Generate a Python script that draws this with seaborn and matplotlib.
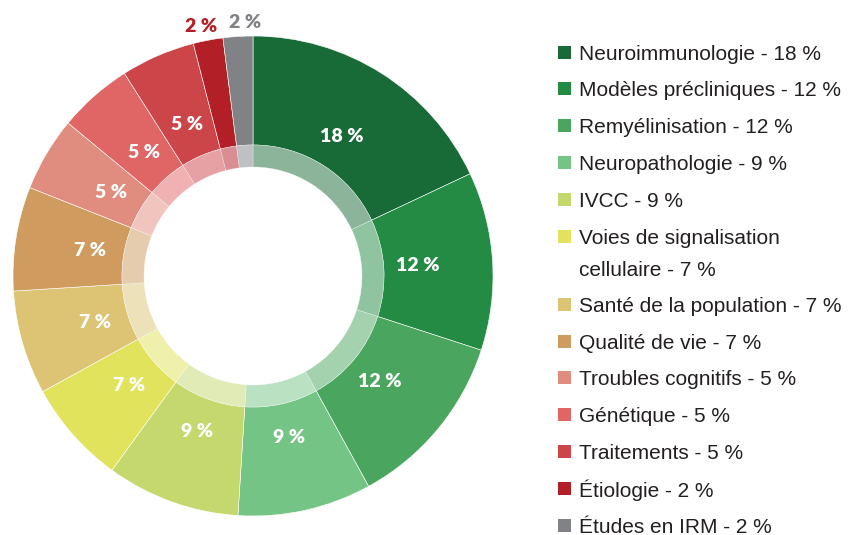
import numpy as np
import seaborn as sns
import matplotlib.pyplot as plt
from matplotlib.patches import Rectangle

# data
themes = ['Neuroimmunologie', 'Modèles précliniques', 'Remyélinisation',
          'Neuropathologie', 'IVCC', 'Voies de signalisation\ncellulaire',
          'Santé de la population', 'Qualité de vie', 'Troubles cognitifs',
          'Génétique', 'Traitements', 'Étiologie', 'Études en IRM']
shares = [18, 12, 12, 9, 9, 7, 7, 7, 5, 5, 5, 2, 2]
colors = ['#186b37', '#238b43', '#4aa65e', '#74c486', '#c5d86e', '#e2e35c',
          '#dcc474', '#cf9b5e', '#e08c7e', '#e06565', '#cc4548', '#b21f26',
          '#808285']

sns.set_theme(style='white')
plt.rcParams['font.family'] = ['Liberation Sans', 'DejaVu Sans']

fig = plt.figure(figsize=(8.53, 5.35), dpi=100)
W, H = 853, 535
cx, cy, half = 253, 535 - 276, 258
ax = fig.add_axes([(cx - half) / W, (cy - half) / H, 2 * half / W, 2 * half / H])

# outer coloured ring
ax.pie(shares, radius=240, startangle=90, counterclock=False, colors=colors,
       wedgeprops=dict(width=109, edgecolor='white', linewidth=0.4))
# lighter inner ring
ax.pie(shares, radius=131, startangle=90, counterclock=False, colors=colors,
       wedgeprops=dict(width=22, edgecolor='white', linewidth=0.4, alpha=0.5))
ax.set_xlim(-half, half)
ax.set_ylim(-half, half)
ax.set_aspect('equal')
ax.axis('off')

# percentage labels (small slices get their label outside, spread apart a bit)
cum = np.cumsum(shares) - np.array(shares) / 2
n_out = 0
for val, c, col in zip(shares, cum, colors):
    ang = np.deg2rad(90 - c * 3.6)
    if val >= 5:
        r, tc, dx = 165, 'white', 0
    else:
        r, tc = 254, col
        dx = -3 if n_out == 0 else 6
        n_out += 1
    ax.annotate(f'{val} %', (r * np.cos(ang), r * np.sin(ang)),
                xytext=(dx, 0), textcoords='offset points', color=tc,
                ha='center', va='center', fontsize=14, fontweight='heavy',
                family=['Lato', 'DejaVu Sans'])

# legend, laid out by hand in pixel units
leg = fig.add_axes([0, 0, 1, 1])
leg.set_xlim(0, W)
leg.set_ylim(H, 0)
leg.axis('off')
y = 52
for t, v, col in zip(themes, shares, colors):
    lines = f'{t} - {v} %'.split('\n')
    leg.add_patch(Rectangle((558, y - 6.5), 13, 13, facecolor=col, edgecolor='none'))
    for k, line in enumerate(lines):
        leg.text(579, y + 32 * k, line, fontsize=15, color='#231f20',
                 ha='left', va='center_baseline')
    y += 36.8 + 31.5 * (len(lines) - 1)

fig.savefig('out.png', dpi=100)
